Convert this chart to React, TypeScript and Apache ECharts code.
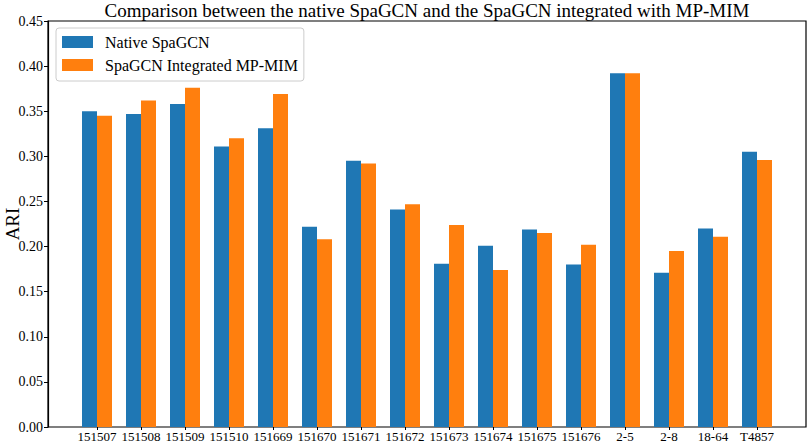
import React, { useEffect, useRef } from "react";
import * as echarts from "echarts";

const categories = [
  "151507", "151508", "151509", "151510", "151669", "151670", "151671", "151672",
  "151673", "151674", "151675", "151676", "2-5", "2-8", "18-64", "T4857",
];
const nativeSpaGCN = [
  0.350, 0.347, 0.358, 0.311, 0.331, 0.222, 0.295, 0.241,
  0.181, 0.201, 0.219, 0.180, 0.392, 0.171, 0.220, 0.305,
];
const integratedMPMIM = [
  0.345, 0.362, 0.376, 0.320, 0.369, 0.208, 0.292, 0.247,
  0.224, 0.174, 0.215, 0.202, 0.392, 0.195, 0.211, 0.296,
];
const seriesNames = ["Native SpaGCN", "SpaGCN Integrated MP-MIM"];
const titleText = "Comparison between the native SpaGCN and the SpaGCN integrated with MP-MIM";
const yName = "ARI";

const FONT = "'Liberation Serif', 'DejaVu Serif', serif";

export default function App() {
  const ref = useRef<HTMLDivElement>(null);
  useEffect(() => {
    if (!ref.current) return;
    const chart = echarts.init(ref.current, null, { renderer: "svg" });
    chart.setOption({
      animation: false,
      backgroundColor: "#fff",
      textStyle: { fontFamily: FONT },
      title: {
        text: titleText,
        left: 427,
        textAlign: "center",
        top: 1,
        padding: 0,
        textStyle: { fontFamily: FONT, fontSize: 19, fontWeight: "normal", color: "#000" },
      },
      legend: {
        orient: "vertical",
        left: 56,
        top: 28,
        data: seriesNames,
        icon: "rect",
        itemWidth: 31,
        itemHeight: 12,
        itemGap: 7,
        padding: [6, 6, 8, 6],
        borderColor: "#cccccc",
        borderWidth: 1,
        borderRadius: 3,
        backgroundColor: "#fff",
        textStyle: { fontFamily: FONT, fontSize: 16, lineHeight: 16, color: "#000", padding: [0, 0, 0, 7] },
      },
      grid: [
        { left: 48, right: 3, top: 21, bottom: 16, outerBoundsMode: "none", containLabel: false, show: true, borderColor: "#000", borderWidth: 1.2, backgroundColor: "transparent" },
        { left: 75, right: 30, top: 21, bottom: 16, outerBoundsMode: "none", containLabel: false },
      ],
      xAxis: [
        { type: "value", gridIndex: 0, min: 0, max: 1, show: false },
        {
          type: "category",
          gridIndex: 1,
          data: categories,
          axisLine: { show: false },
          axisTick: { show: true, alignWithLabel: true, length: 3, lineStyle: { color: "#000" } },
          axisLabel: { fontFamily: FONT, fontSize: 13, lineHeight: 13, color: "#000", margin: 3, interval: 0 },
        },
      ],
      yAxis: [
        {
          type: "value",
          gridIndex: 0,
          min: 0,
          max: 0.45,
          interval: 0.05,
          name: yName,
          nameLocation: "middle",
          nameGap: 26,
          nameMoveOverlap: false,
          nameTextStyle: { fontFamily: FONT, fontSize: 19, color: "#000" },
          axisLine: { show: true, lineStyle: { color: "#000", width: 1.2 } },
          axisTick: { show: true, length: 4, lineStyle: { color: "#000" } },
          axisLabel: { fontFamily: FONT, fontSize: 14, color: "#000", margin: 5, formatter: (v: number) => v.toFixed(2) },
          splitLine: { show: false },
        },
        { type: "value", gridIndex: 1, min: 0, max: 0.45, show: false, splitLine: { show: false } },
      ],
      series: [
        {
          name: seriesNames[0],
          type: "bar",
          xAxisIndex: 1,
          yAxisIndex: 1,
          data: nativeSpaGCN,
          barWidth: 15,
          barGap: "0%",
          itemStyle: { color: "#1f77b4" },
        },
        {
          name: seriesNames[1],
          type: "bar",
          xAxisIndex: 1,
          yAxisIndex: 1,
          data: integratedMPMIM,
          barWidth: 15,
          barGap: "0%",
          itemStyle: { color: "#ff7f0e" },
        },
      ],
    });
    return () => chart.dispose();
  }, []);
  return <div ref={ref} style={{ width: 809, height: 443, position: "absolute", left: 0, top: 0 }} />;
}
